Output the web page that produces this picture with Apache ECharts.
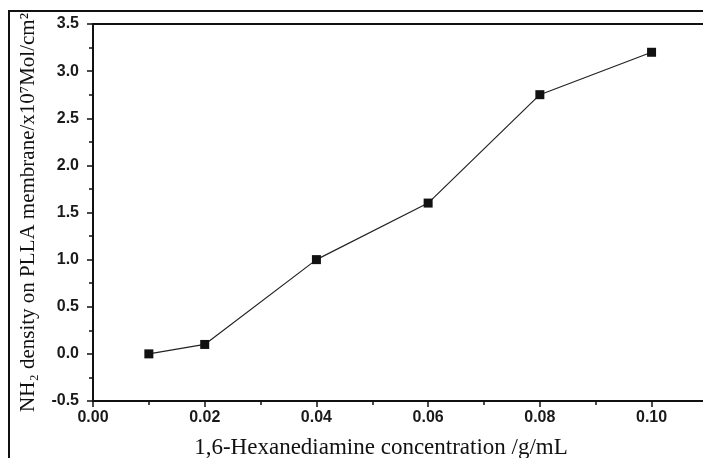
<!DOCTYPE html>
<html>
<head>
<meta charset="utf-8">
<script src="https://cdn.jsdelivr.net/npm/echarts@6/dist/echarts.min.js"></script>
<style>
html,body{margin:0;padding:0;background:#fff;}
#chart{width:703px;height:458px;}
</style>
</head>
<body>
<div id="chart"></div>
<script>
const concentrations = [0.01, 0.02, 0.04, 0.06, 0.08, 0.10];
const nh2Density = [0.0, 0.1, 1.0, 1.6, 2.75, 3.2];
const xTitle = '1,6-Hexanediamine concentration /g/mL';
const yTitle = 'NH\u2082 density on PLLA membrane/x10\u2077Mol/cm\u00B2';

const chart = echarts.init(document.getElementById('chart'), null, {renderer: 'canvas'});
const serif = '"Liberation Serif", "DejaVu Serif", serif';
const sans = '"Liberation Sans", "DejaVu Sans", sans-serif';

chart.setOption({
  backgroundColor: '#fff',
  animation: false,
  grid: {left: 93, right: -10, top: 24, bottom: 57, containLabel: false, outerBoundsMode: 'none'},
  xAxis: [{
    type: 'value',
    min: 0,
    max: 0.111,
    interval: 0.02,
    position: 'bottom',
    name: xTitle,
    nameLocation: 'middle',
    nameGap: 35,
    nameTextStyle: {fontFamily: serif, fontSize: 23, color: '#111', padding: [0, 44, 0, 0]},
    axisLine: {show: true, onZero: false, lineStyle: {color: '#111', width: 2}},
    axisTick: {show: true, inside: false, length: 6, lineStyle: {color: '#111', width: 1.5}},
    minorTick: {show: true, splitNumber: 2, length: 4, lineStyle: {color: '#111', width: 1.5}},
    axisLabel: {fontFamily: sans, fontSize: 16, fontWeight: 'bold', color: '#1a1a1a', margin: 9, showMaxLabel: false,
      formatter: v => v.toFixed(2)},
    splitLine: {show: false}
  }, {
    type: 'value',
    min: 0,
    max: 0.111,
    position: 'top',
    axisLine: {show: true, onZero: false, lineStyle: {color: '#111', width: 2}},
    axisTick: {show: false},
    axisLabel: {show: false},
    splitLine: {show: false}
  }],
  yAxis: {
    type: 'value',
    min: -0.5,
    max: 3.5,
    interval: 0.5,
    name: yTitle,
    nameLocation: 'middle',
    nameGap: 54,
    nameRotate: 90,
    nameTextStyle: {fontFamily: serif, fontSize: 21, color: '#111'},
    axisLine: {show: true, onZero: false, lineStyle: {color: '#111', width: 2}},
    axisTick: {show: true, inside: false, length: 6, lineStyle: {color: '#111', width: 1.5}},
    minorTick: {show: true, splitNumber: 2, length: 4, lineStyle: {color: '#111', width: 1.5}},
    axisLabel: {fontFamily: sans, fontSize: 16, fontWeight: 'bold', color: '#1a1a1a', margin: 14,
      formatter: v => v.toFixed(1)},
    splitLine: {show: false}
  },
  series: [{
    type: 'line',
    data: concentrations.map((c, i) => [c, nh2Density[i]]),
    symbol: 'rect',
    symbolSize: 9,
    showAllSymbol: true,
    itemStyle: {color: '#111'},
    lineStyle: {color: '#222', width: 1.2}
  }],
  graphic: [
    {type: 'line', shape: {x1: 9, y1: 11, x2: 703, y2: 11}, style: {stroke: '#111', lineWidth: 2}, silent: true},
    {type: 'line', shape: {x1: 9, y1: 10, x2: 9, y2: 458}, style: {stroke: '#111', lineWidth: 2}, silent: true}
  ]
});
</script>
</body>
</html>
